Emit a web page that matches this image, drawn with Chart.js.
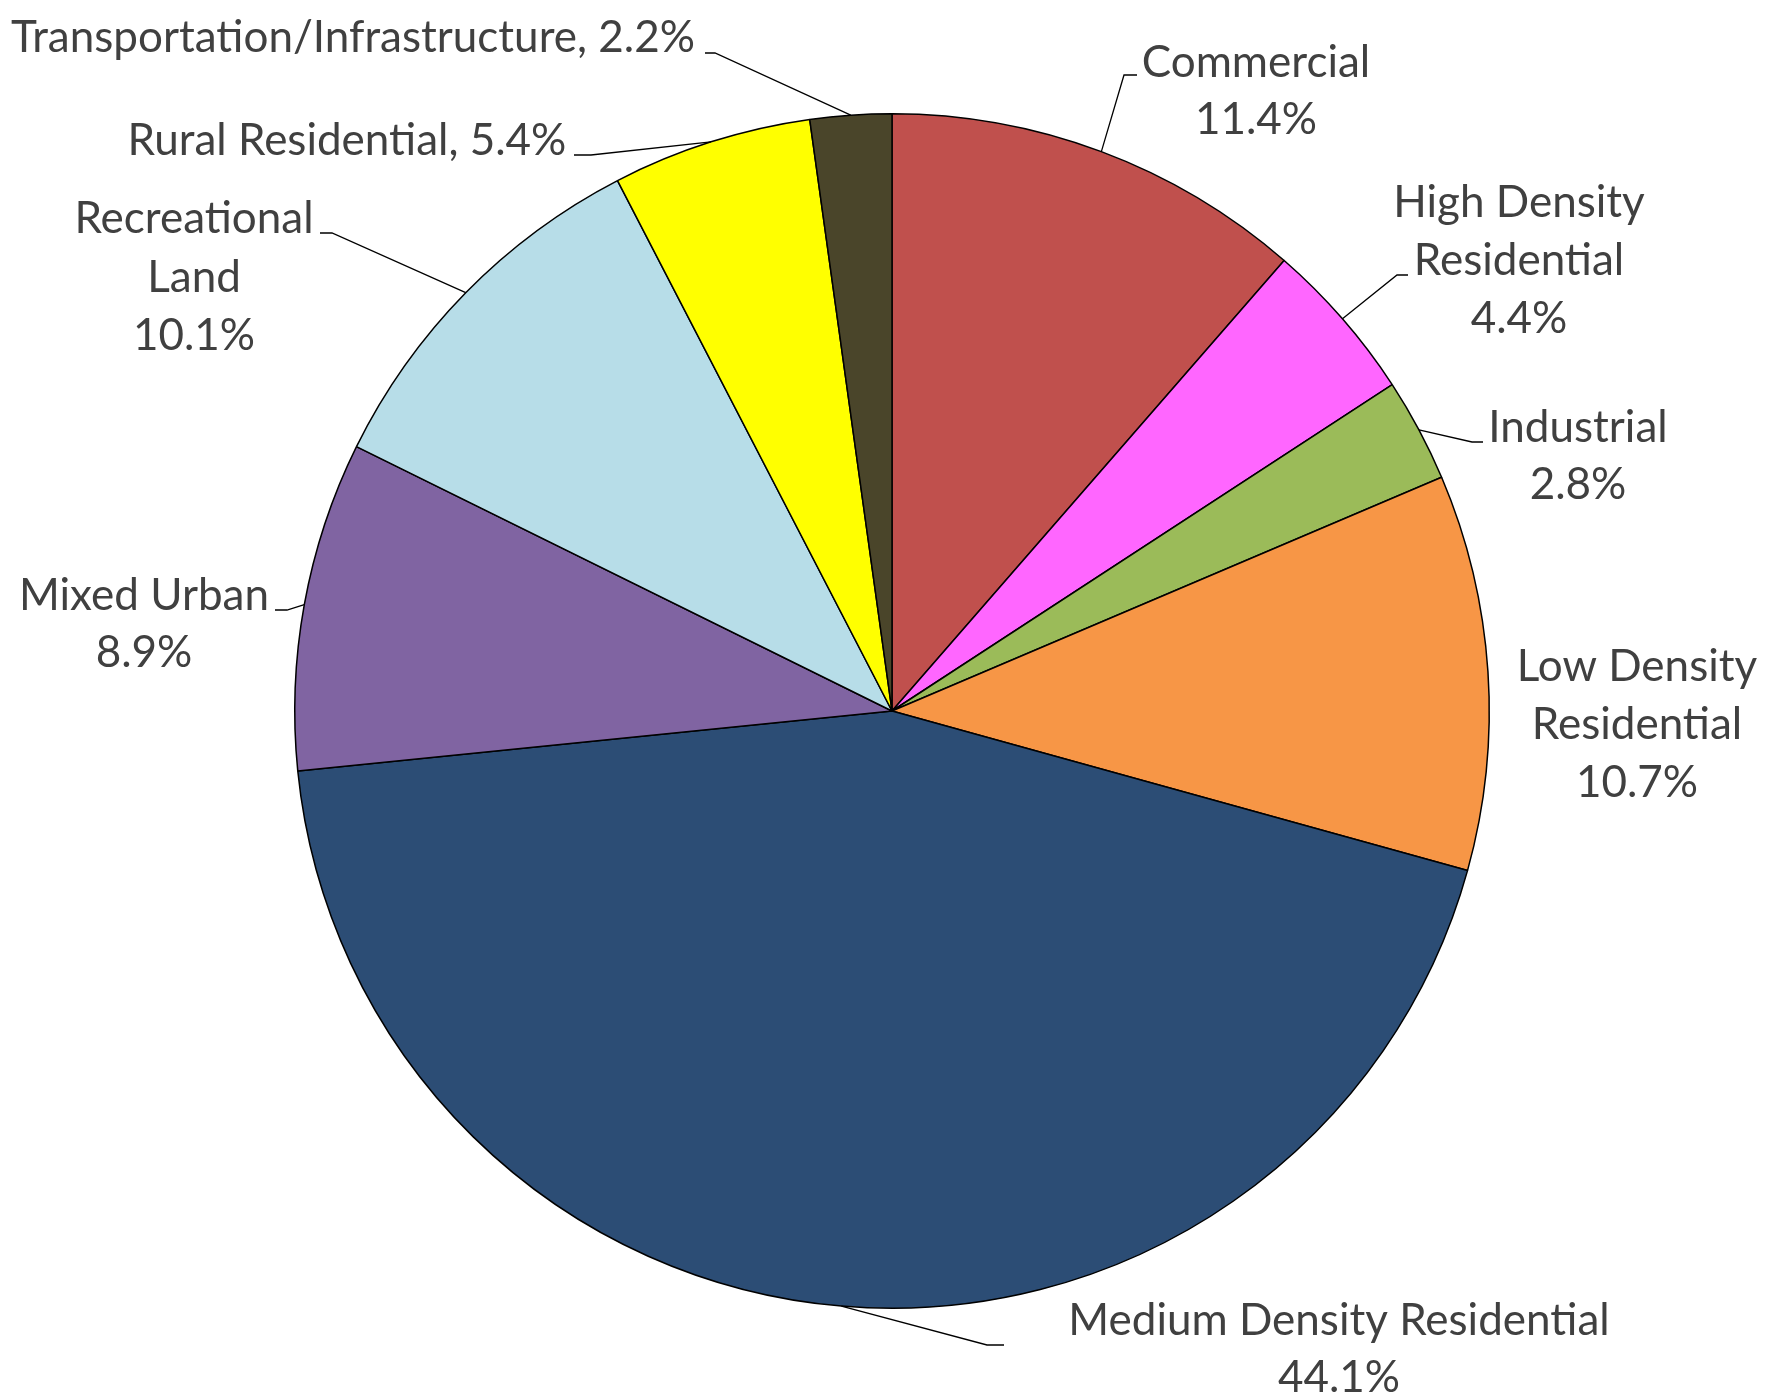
<!DOCTYPE html>
<html>
<head>
<meta charset="utf-8">
<script src="https://cdn.jsdelivr.net/npm/chart.js@4.4.1/dist/chart.umd.min.js"></script>
<style>
  html, body { margin: 0; padding: 0; background: #ffffff; }
  #wrap { width: 1779px; height: 1398px; position: relative; }
</style>
</head>
<body>
<div id="wrap"><canvas id="c"></canvas></div>
<script>
// ---- data ----
const categories = [
  'Commercial',
  'High Density Residential',
  'Industrial',
  'Low Density Residential',
  'Medium Density Residential',
  'Mixed Urban',
  'Recreational Land',
  'Rural Residential',
  'Transportation/Infrastructure'
];
const shares = [11.4, 4.4, 2.8, 10.7, 44.1, 8.9, 10.1, 5.4, 2.2];
const sliceColors = ['#C0504D', '#FF66FF', '#9BBB59', '#F79646', '#2C4D75', '#8064A2', '#B7DDE8', '#FFFF00', '#4A452A'];

// ---- label layout (annotation placement, pixels) ----
// wrap: words per line for the category name; null = single line "name, value"
const labelLayout = [
  { wrap: [1],    cx: 1256, base: 77,   lh: 57, elbow: [1124, 75],  end: [1137, 75] },
  { wrap: [2, 1], cx: 1519, base: 217,  lh: 58, elbow: [1397, 275], end: [1408, 275] },
  { wrap: [1],    cx: 1578, base: 442,  lh: 57, elbow: [1472, 442], end: [1483, 442] },
  { wrap: [2, 1], cx: 1637, base: 681,  lh: 58, elbow: null, end: null },
  { wrap: [3],    cx: 1339, base: 1335, lh: 57, elbow: [987, 1345], end: [1004, 1345] },
  { wrap: [2],    cx: 144,  base: 610,  lh: 57, elbow: [287, 610],  end: [275, 610] },
  { wrap: [1, 1], cx: 194,  base: 233,  lh: 58.5, elbow: [332, 233], end: [320, 233] },
  { wrap: null,   cx: 347,  base: 155,  lh: 57, elbow: [591, 155],  end: [574, 155] },
  { wrap: null,   cx: 353,  base: 52,   lh: 57, elbow: [715, 53],   end: [705, 53] }
];

function labelLines(i) {
  const name = categories[i];
  const val = shares[i].toFixed(1) + '%';
  const lay = labelLayout[i];
  if (!lay.wrap) return [name + ', ' + val];
  const words = name.split(' ');
  const lines = [];
  let k = 0;
  lay.wrap.forEach(n => { lines.push(words.slice(k, k + n).join(' ')); k += n; });
  lines.push(val);
  return lines;
}

const labelPlugin = {
  id: 'outerLabels',
  afterDatasetsDraw(chart) {
    const ctx = chart.ctx;
    const meta = chart.getDatasetMeta(0);
    ctx.save();
    // leader lines
    ctx.strokeStyle = '#000000';
    ctx.lineWidth = 1.3;
    meta.data.forEach((arc, i) => {
      const lay = labelLayout[i];
      if (!lay.elbow) return;
      const p = arc.getProps(['x', 'y', 'startAngle', 'endAngle', 'outerRadius'], true);
      const mid = (p.startAngle + p.endAngle) / 2;
      const ax = p.x + Math.cos(mid) * p.outerRadius;
      const ay = p.y + Math.sin(mid) * p.outerRadius;
      ctx.beginPath();
      ctx.moveTo(ax, ay);
      ctx.lineTo(lay.elbow[0], lay.elbow[1]);
      ctx.lineTo(lay.end[0], lay.end[1]);
      ctx.stroke();
    });
    // texts
    ctx.fillStyle = '#404040';
    ctx.font = '44px Lato';
    ctx.textAlign = 'center';
    ctx.textBaseline = 'alphabetic';
    meta.data.forEach((arc, i) => {
      const lay = labelLayout[i];
      labelLines(i).forEach((t, j) => {
        ctx.fillText(t, lay.cx, lay.base + j * lay.lh);
      });
    });
    ctx.restore();
  }
};

new Chart(document.getElementById('c'), {
  type: 'pie',
  data: {
    labels: categories,
    datasets: [{
      data: shares,
      backgroundColor: sliceColors,
      borderColor: '#000000',
      borderWidth: 1.5,
      hoverOffset: 0
    }]
  },
  options: {
    responsive: true,
    maintainAspectRatio: false,
    animation: false,
    layout: { padding: { left: 294, right: 289, top: 113, bottom: 89 } },
    plugins: {
      legend: { display: false },
      tooltip: { enabled: false }
    }
  },
  plugins: [labelPlugin]
});
</script>
</body>
</html>
